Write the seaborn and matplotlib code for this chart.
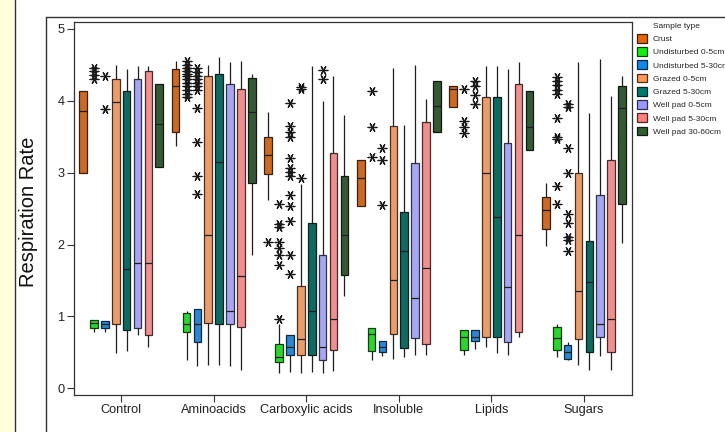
import numpy as np
import pandas as pd
import seaborn as sns
import matplotlib.pyplot as plt
from matplotlib.patches import Rectangle, Patch
from matplotlib.lines import Line2D
from matplotlib.colors import to_rgb

# categories and sample types
categories = ["Control", "Aminoacids", "Carboxylic acids", "Insoluble", "Lipids", "Sugars"]
sample_types = ["Crust", "Undisturbed 0-5cm", "Undisturbed 5-30cm", "Grazed 0-5cm",
                "Grazed 5-30cm", "Well pad 0-5cm", "Well pad 5-30cm", "Well pad 30-60cm"]
colors = ["#E66508", "#14EE14", "#1188EE", "#FF9955",
          "#007A6E", "#9999FF", "#FF7F7F", "#2F5F2F"]

# per category: whisker low, q1, median, q3, whisker high
crust = [[3.00, 3.00, 3.86, 4.13, 4.13], [3.37, 3.57, 4.20, 4.44, 4.55],
         [2.62, 2.98, 3.25, 3.49, 3.84], [2.53, 2.53, 2.93, 3.17, 3.17],
         [3.91, 3.91, 4.16, 4.20, 4.20], [1.98, 2.22, 2.48, 2.66, 2.85]]
undist_0_5 = [[0.79, 0.84, 0.915, 0.947, 0.947], [0.40, 0.78, 0.90, 1.05, 1.07],
              [0.21, 0.37, 0.44, 0.62, 0.90], [0.39, 0.515, 0.75, 0.845, 0.845],
              [0.47, 0.53, 0.72, 0.81, 0.81], [0.44, 0.53, 0.70, 0.86, 0.90]]
undist_5_30 = [[0.79, 0.845, 0.90, 0.93, 0.93], [0.31, 0.64, 0.89, 1.10, 1.10],
               [0.23, 0.47, 0.57, 0.74, 0.74], [0.45, 0.50, 0.575, 0.655, 0.655],
               [0.55, 0.655, 0.72, 0.81, 0.81], [0.39, 0.41, 0.51, 0.60, 0.64]]
grazed_0_5 = [[0.49, 0.90, 3.98, 4.31, 4.50], [0.33, 0.915, 2.14, 4.34, 4.50],
              [0.21, 0.46, 0.68, 1.42, 2.84], [0.41, 0.76, 1.51, 3.65, 4.46],
              [0.57, 0.71, 2.99, 4.05, 4.48], [0.32, 0.69, 1.36, 2.99, 4.54]]
grazed_5_30 = [[0.52, 0.81, 1.66, 4.13, 4.44], [0.32, 0.89, 3.15, 4.37, 4.61],
               [0.23, 0.47, 1.08, 2.30, 4.48], [0.44, 0.56, 1.91, 2.45, 3.66],
               [0.49, 0.72, 2.39, 4.05, 4.48], [0.26, 0.50, 1.48, 2.05, 3.83]]
wellpad_0_5 = [[0.74, 0.84, 1.75, 4.31, 4.48], [0.31, 0.89, 1.08, 4.23, 4.54],
               [0.21, 0.40, 0.57, 1.85, 4.00], [0.46, 0.70, 1.26, 3.13, 4.50],
               [0.47, 0.64, 1.41, 3.41, 4.44], [0.45, 0.71, 0.90, 2.69, 4.58]]
wellpad_5_30 = [[0.58, 0.74, 1.75, 4.41, 4.48], [0.26, 0.86, 1.56, 4.17, 4.55],
                [0.24, 0.54, 0.96, 3.27, 4.35], [0.46, 0.62, 1.67, 3.70, 4.03],
                [0.71, 0.79, 2.14, 4.23, 4.54], [0.26, 0.50, 0.97, 3.17, 4.07]]
wellpad_30_60 = [[3.08, 3.08, 3.68, 4.23, 4.23], [1.85, 2.85, 3.84, 4.32, 4.37],
                 [1.28, 1.57, 2.14, 2.95, 3.80], [3.57, 3.57, 3.93, 4.28, 4.28],
                 [3.31, 3.31, 3.63, 4.14, 4.14], [2.02, 2.56, 3.90, 4.21, 4.34]]

# outliers (asterisks)
crust_fliers = {"Carboxylic acids": [2.04]}
undist_0_5_fliers = {
    "Control": [4.45, 4.41, 4.36, 4.31],
    "Aminoacids": [4.55, 4.50, 4.46, 4.42, 4.38, 4.34, 4.30, 4.25, 4.20, 4.15, 4.10, 4.06],
    "Carboxylic acids": [2.57, 2.28, 2.25, 2.04, 1.95, 1.85, 1.71, 0.97],
    "Insoluble": [4.13, 3.63, 3.22],
    "Lipids": [4.16, 3.72, 3.64, 3.55],
    "Sugars": [4.33, 4.28, 4.22, 4.15, 4.09, 3.76, 3.50, 3.47, 2.81, 2.57],
}
undist_5_30_fliers = {
    "Control": [4.34, 3.88],
    "Aminoacids": [4.45, 4.40, 4.35, 4.30, 4.25, 4.20, 4.15, 3.90, 3.43, 2.96, 2.71],
    "Carboxylic acids": [3.97, 3.65, 3.57, 3.50, 3.20, 3.06, 3.01, 2.96, 2.69, 2.54,
                         2.33, 1.85, 1.59],
    "Insoluble": [3.35, 3.18, 2.55],
    "Lipids": [4.27, 4.20, 4.08, 3.96],
    "Sugars": [3.95, 3.92, 3.35, 3.00, 2.43, 2.30, 2.11, 2.06, 1.91],
}
grazed_0_5_fliers = {"Carboxylic acids": [4.19, 4.16, 2.92]}
wellpad_0_5_fliers = {"Carboxylic acids": [4.43, 4.30]}

boxes = [crust, undist_0_5, undist_5_30, grazed_0_5, grazed_5_30,
         wellpad_0_5, wellpad_5_30, wellpad_30_60]
fliers = [crust_fliers, undist_0_5_fliers, undist_5_30_fliers, grazed_0_5_fliers,
          {}, wellpad_0_5_fliers, {}, {}]

rows = []
for s, summ in zip(sample_types, boxes):
    for c, vals in zip(categories, summ):
        for v in vals:
            rows.append((c, s, v))
df = pd.DataFrame(rows, columns=["category", "sample", "rate"])

W = 0.94
n = len(sample_types)
frows = []
for si, (s, fl) in enumerate(zip(sample_types, fliers)):
    for c, vals in fl.items():
        pos = categories.index(c) + (si + 0.5) * W / n - W / 2
        for v in vals:
            frows.append((pos, v))
fdf = pd.DataFrame(frows, columns=["pos", "rate"])

sns.set_theme(style="ticks")
plt.rcParams['font.family'] = ['Liberation Sans', 'DejaVu Sans']

fig = plt.figure(figsize=(7.25, 4.32), dpi=100)
ax = fig.add_axes([74 / 725, 37 / 432, 558 / 725, 373 / 432])

sns.boxplot(data=df, x="category", y="rate", hue="sample", order=categories,
            hue_order=sample_types, palette=colors, width=W, gap=0.3,
            whis=(0, 100), showfliers=False, showcaps=False,
            linecolor="#1e1e1e", linewidth=0.9, legend=False, ax=ax)

def darken(c, f=0.3):
    r, g, b = to_rgb(c)
    return (r * f, g * f, b * f)

for p in ax.patches:
    p.set_edgecolor(darken(p.get_facecolor()))

sns.scatterplot(data=fdf, x="pos", y="rate", marker=(6, 2, 90), s=40,
                color="k", linewidth=0.9, ax=ax, zorder=5)

ax.set_xlim(-0.51, 5.52)
ax.set_ylim(-0.093, 5.097)
ax.set_yticks([0, 1, 2, 3, 4, 5])
ax.set_xlabel("")
ax.set_ylabel("")
ax.tick_params(axis="both", length=5, width=0.8, labelsize=9.2, pad=1.5,
               color="#333333", labelcolor="#222222")
for sp in ax.spines.values():
    sp.set_visible(True)
    sp.set_linewidth(0.9)
    sp.set_color("#333333")

fig.text(29 / 725, 1 - 212 / 432, "Respiration Rate", rotation=90,
         ha="center", va="center", fontsize=14.5, color="#111111")

# legend
handles = [Patch(facecolor=c, edgecolor=darken(c), linewidth=0.9) for c in colors]
fig.text(653 / 725, 1 - 26 / 432, "Sample type", ha="left", va="center",
         fontsize=6.0, color="#222222")
fig.legend(handles, sample_types, loc="upper left",
           bbox_to_anchor=(637 / 725, 1 - 34 / 432), frameon=False,
           fontsize=6.0, handlelength=1.2, handleheight=1.2,
           handletextpad=0.7, labelspacing=0.5, borderpad=0, borderaxespad=0)

# page decorations: yellow strip and outer frame
fig.patches.append(Rectangle((0, 0), 15 / 725, 1, transform=fig.transFigure,
                             facecolor="#FFFFDC", edgecolor="none", zorder=0))
fig.add_artist(Line2D([15 / 725, 15 / 725], [0, 1], transform=fig.transFigure,
                      color="#333333", linewidth=1))
fig.add_artist(Line2D([46 / 725, 46 / 725], [0, 1 - 17 / 432], transform=fig.transFigure,
                      color="#333333", linewidth=1))
fig.add_artist(Line2D([46 / 725, 1], [1 - 17 / 432, 1 - 17 / 432], transform=fig.transFigure,
                      color="#333333", linewidth=1))

fig.savefig("out.png", dpi=100)
